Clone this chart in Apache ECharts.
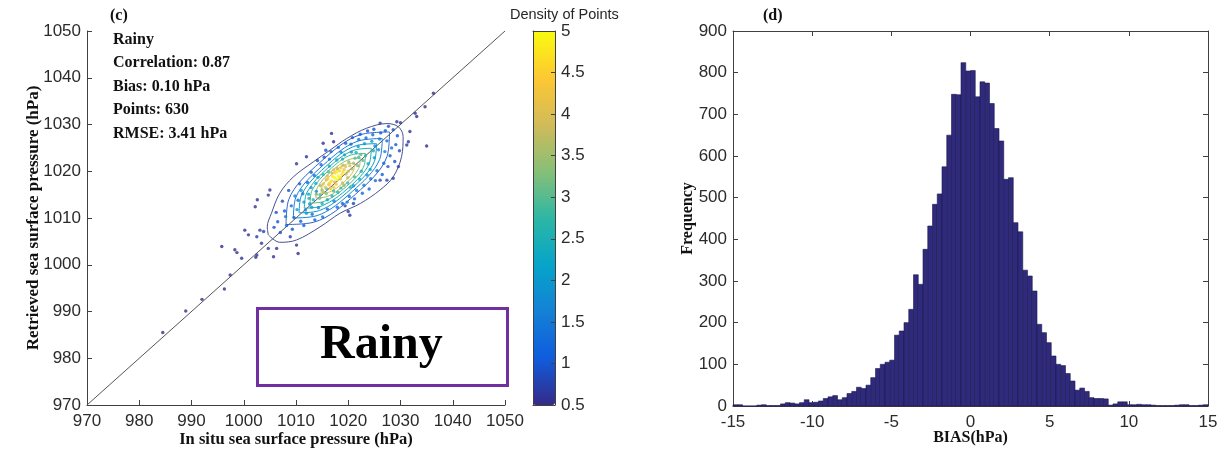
<!DOCTYPE html>
<html>
<head>
<meta charset="utf-8">
<script src="https://cdn.jsdelivr.net/npm/echarts@6.0.0/dist/echarts.min.js"></script>
<style>
html, body { margin: 0; padding: 0; background: #fff; }
#main { width: 1226px; height: 450px; }
</style>
</head>
<body>
<div id="main"></div>
<script>
// ---- data (c): scatter of retrieved vs in situ pressure, [x, y, density]
var sparsePts = [
    [984.5,985.5,0.5],[988.9,990.1,0.5],[992.0,992.6,0.5],[996.3,994.8,0.5],[997.4,997.8,0.55],
    [995.8,1003.9,0.5],[998.3,1003.2,0.55],[998.7,1002.6,0.55],[999.6,1001.4,0.6],[1002.3,1001.6,0.6],
    [1002.5,1002.1,0.6],[1005.7,1001.7,0.55],[1004.7,1003.5,0.6],[1006.3,1003.5,0.6],[1010.1,1004.2,0.55],
    [1010.4,1002.4,0.5],[1003.4,1004.6,0.65],[1000.2,1007.4,0.55],[1000.9,1006.4,0.6],[1003.1,1007.4,0.7],
    [1002.5,1006.0,0.7],[1003.8,1007.1,0.75],[1008.9,1006.0,0.7],[1002.6,1013.9,0.55],[1002.2,1012.4,0.55],
    [1005.0,1016.0,0.6],[1004.7,1014.9,0.6],[1010.1,1021.6,0.6],[1012.0,1023.1,0.6],[1015.2,1026.0,0.55],
    [1016.8,1028.1,0.5],[1017.2,1026.3,0.55],[1036.3,1036.7,0.5],[1032.8,1032.4,0.55],[1033.1,1031.7,0.55],
    [1034.7,1033.8,0.5],[1031.8,1028.5,0.6],[1035.0,1025.4,0.5],[1031.2,1025.6,0.65],[1031.5,1026.3,0.65],
    [1029.6,1021.0,0.7],[1028.6,1018.5,0.75],[1027.4,1018.1,0.8],[1026.1,1018.1,0.85],[1021.0,1013.1,0.8],
    [1020.0,1011.4,0.7],[1020.3,1010.6,0.65],[1019.4,1012.6,0.8],[1026.1,1030.3,0.7],[1029.3,1030.6,0.65],
    [1030.0,1030.4,0.65]
];
var ringPts = [
    [1006.5,1009.2,1.0],[1007.8,1011.5,1.1],[1008.2,1008.4,1.2],[1009.1,1012.6,1.2],[1009.6,1010.1,1.4],
    [1010.4,1013.8,1.3],[1010.9,1009.3,1.2],[1011.3,1015.2,1.4],[1011.8,1011.7,1.7],[1012.2,1017.6,1.2],
    [1012.6,1013.0,1.8],[1013.1,1010.8,1.3],[1013.5,1019.1,1.3],[1013.9,1015.7,1.9],[1014.3,1012.2,1.6],
    [1014.8,1021.4,1.2],[1015.4,1023.0,1.0],[1016.0,1011.9,1.2],[1016.7,1024.2,1.1],[1017.3,1013.6,1.5],
    [1018.1,1025.1,1.2],[1018.9,1013.1,1.2],[1019.5,1026.0,1.1],[1020.2,1014.6,1.4],[1020.8,1027.2,1.0],
    [1021.6,1015.9,1.5],[1022.3,1027.9,1.1],[1023.0,1017.0,1.5],[1023.7,1028.6,1.0],[1024.3,1018.4,1.4],
    [1024.9,1029.0,0.9],[1025.5,1020.1,1.3],[1026.2,1028.2,1.1],[1026.8,1021.7,1.2],[1027.4,1026.5,1.2],
    [1028.0,1023.3,1.1],[1028.6,1028.9,0.9],[1029.1,1025.7,1.0],[1027.7,1029.6,0.9],[1025.8,1024.6,1.8],
    [1005.8,1008.0,0.9],[1006.2,1011.2,0.9],[1007.0,1006.9,0.9],[1007.4,1013.6,0.8],[1008.6,1015.9,0.9],
    [1009.3,1007.6,1.0],[1010.7,1017.3,1.0],[1011.5,1008.4,1.1],[1012.9,1019.8,1.0],[1013.6,1009.6,1.1],
    [1014.1,1022.3,0.9],[1015.1,1010.2,1.3],[1015.7,1024.5,0.9],[1016.4,1022.6,1.4],[1017.9,1012.3,1.3],
    [1018.6,1024.1,1.5],[1019.8,1013.4,1.5],[1020.5,1025.8,1.3],[1021.2,1014.1,1.2],[1022.0,1026.8,1.4],
    [1022.7,1015.3,1.3],[1023.4,1027.1,1.2],[1024.0,1016.2,1.1],[1024.7,1027.8,1.2],[1025.2,1018.0,1.2],
    [1026.0,1026.9,1.5],[1026.5,1019.3,1.1],[1027.1,1028.7,1.0],[1027.6,1021.0,1.0],[1028.3,1025.0,1.3],
    [1028.9,1022.1,0.9],[1029.4,1027.6,1.0],[1029.8,1024.4,0.9],[1008.0,1010.3,1.5],[1009.8,1014.7,1.6],
    [1012.9,1016.5,1.9],[1023.6,1019.2,1.8],[1025.1,1025.4,1.7],[1027.0,1024.2,1.6],[1021.0,1016.9,1.9]
];
var midPts = [
    [1010.2,1011.8,2.0],[1011.5,1013.4,2.2],[1012.4,1015.1,2.3],[1013.3,1013.9,2.6],[1013.8,1017.4,2.4],
    [1014.6,1015.0,2.9],[1015.2,1019.3,2.6],[1015.9,1016.2,3.0],[1016.4,1021.1,2.3],[1017.2,1015.8,2.8],
    [1017.8,1022.4,2.2],[1018.6,1016.4,2.7],[1019.3,1023.5,2.1],[1019.9,1017.5,2.9],[1020.6,1024.1,2.0],
    [1021.2,1018.8,2.8],[1021.9,1025.3,2.0],[1022.5,1020.0,2.6],[1023.1,1025.9,2.0],[1023.8,1021.6,2.3],
    [1024.5,1026.4,2.0],[1025.0,1022.9,2.1],[1022.0,1023.0,2.9],[1012.0,1011.0,2.0],[1016.0,1013.9,2.2],
    [1011.0,1015.9,2.0],[1013.0,1012.3,2.1],[1014.2,1018.7,2.2],[1015.0,1013.1,2.4],[1016.2,1019.9,2.9],
    [1016.9,1014.7,2.5],[1018.0,1015.5,2.6],[1018.9,1022.6,2.5],[1020.4,1016.6,2.7],[1021.5,1024.0,2.5],
    [1022.2,1018.3,2.5],[1023.3,1023.3,2.7],[1024.2,1020.4,2.2],[1024.8,1024.4,2.4],[1012.5,1014.2,2.4]
];
var highPts = [
    [1013.9,1015.1,3.2],[1014.7,1016.9,3.5],[1015.3,1015.5,3.6],[1015.8,1018.2,3.8],[1016.3,1017.1,3.9],
    [1016.9,1019.6,3.8],[1017.4,1017.7,3.9],[1017.9,1020.6,3.6],[1018.5,1018.4,3.9],[1019.0,1021.3,3.5],
    [1019.6,1019.4,3.7],[1020.1,1022.0,3.2],[1020.7,1020.5,3.4],[1021.3,1022.8,3.0],[1021.8,1021.2,3.2],
    [1022.4,1023.6,3.0],[1014.5,1014.2,3.1],[1019.2,1017.0,3.3],[1015.0,1016.0,3.4],[1016.0,1019.0,3.9],
    [1017.2,1020.3,3.9],[1018.9,1017.5,3.8],[1020.0,1020.0,4.0],[1021.0,1021.7,3.6],[1015.8,1015.2,3.3],
    [1019.9,1018.6,3.6],[1022.8,1022.3,3.0]
];
var corePts = [
    [1015.6,1016.6,4.1],[1016.1,1018.4,4.5],[1016.6,1016.3,4.3],[1017.0,1018.9,4.8],[1017.5,1019.6,4.6],
    [1017.9,1018.2,4.9],[1018.3,1020.1,4.5],[1018.8,1019.3,4.7],[1019.2,1020.4,4.3],[1016.5,1017.6,4.6],
    [1017.7,1017.2,4.4],[1018.1,1019.0,5.0],[1019.5,1021.0,4.0],[1015.2,1017.3,4.0],[1020.3,1021.2,4.0],
    [1016.8,1017.9,4.7],[1018.6,1020.8,4.4],[1017.2,1016.6,4.2],[1017.4,1018.6,5.0],[1018.4,1018.7,4.9],
    [1016.3,1017.2,4.5],[1019.0,1019.9,4.6],[1017.8,1019.9,4.8]
];

// contour lines, outer to inner
var contour1 = [[1004.7,1006.4],[1006.9,1004.8],[1010.1,1005.3],[1014.6,1008.1],[1018.4,1011.0],[1022.3,1013.1],[1026.1,1016.0],[1028.6,1018.8],[1030.2,1023.1],[1030.5,1027.4],[1029.6,1029.5],[1027.4,1030.2],[1023.5,1029.2],[1019.7,1027.0],[1016.5,1024.5],[1013.3,1022.0],[1009.5,1018.8],[1006.9,1015.3],[1005.3,1011.0],[1004.5,1008.1],[1004.7,1006.4]];
var contour2 = [[1027.9,1028.4],[1022.6,1027.9],[1014.6,1021.9],[1008.6,1013.9],[1008.1,1008.6],[1013.4,1009.1],[1021.4,1015.1],[1027.4,1023.1],[1027.9,1028.4]];
var contour3 = [[1026.5,1027.0],[1022.0,1026.5],[1015.2,1021.3],[1010.0,1014.5],[1009.5,1010.0],[1014.0,1010.5],[1020.8,1015.7],[1026.0,1022.5],[1026.5,1027.0]];
var contour4 = [[1025.4,1025.9],[1021.6,1025.5],[1015.6,1020.9],[1011.1,1015.0],[1010.6,1011.1],[1014.5,1011.6],[1020.4,1016.1],[1025.0,1022.1],[1025.4,1025.9]];
var contour5 = [[1024.4,1024.9],[1021.1,1024.5],[1016.0,1020.6],[1012.1,1015.5],[1011.6,1012.1],[1015.0,1012.6],[1020.1,1016.5],[1024.0,1021.6],[1024.4,1024.9]];
var contour6 = [[1023.3,1023.8],[1020.6,1023.5],[1016.3,1020.2],[1013.1,1016.0],[1012.7,1013.2],[1015.5,1013.6],[1019.7,1016.8],[1023.0,1021.1],[1023.3,1023.8]];
var contour7 = [[1022.3,1022.8],[1020.1,1022.5],[1016.7,1019.9],[1014.1,1016.5],[1013.8,1014.3],[1016.0,1014.6],[1019.4,1017.2],[1022.0,1020.6],[1022.3,1022.8]];
var contour8 = [[1021.2,1021.7],[1019.6,1021.5],[1017.0,1019.5],[1015.1,1017.0],[1014.8,1015.3],[1016.5,1015.6],[1019.0,1017.5],[1021.0,1020.1],[1021.2,1021.7]];
var contours = [contour1, contour2, contour3, contour4, contour5, contour6, contour7, contour8];
var contourColors = ['#4a5192', '#2d63c8', '#1a7fd6', '#0b9bcb', '#1eaeb2', '#52bb90', '#a4be68', '#e3c140'];

var diagLine = [[970, 970], [1050, 1050]];

// ---- data (d): histogram of BIAS, bins of 0.3 hPa from -15
var binStart = -15;
var binWidth = 0.3;
var biasCounts = [
    3, 3, 0, 0, 0, 2, 3, 1, 1, 1, 5, 8, 7, 5, 8,
    15,
    8, 9, 12, 18, 22, 25, 15, 20, 30, 35, 45, 42, 50, 68, 90, 100, 105, 110,
    170, 180, 200, 232,
    315,
    292, 376, 432, 484, 509, 574, 650, 748, 747,
    824, 804, 805, 742, 778, 775,
    726, 666, 636, 544, 548, 440, 418, 326, 312, 276, 196, 176, 152, 120,
    100, 97, 78, 60, 38, 43, 35, 20, 18, 18, 17, 2, 5, 10, 10,
    3, 3, 4, 3, 3, 2, 1, 1, 1, 1, 2, 3, 3, 1, 1, 2, 3
];

// colorbar range and colormap
var densityMin = 0.5;
var densityMax = 5;
var parula = ['#352a87', '#0f5cdd', '#1481d6', '#06a4ca', '#2eb7a4', '#87bf77', '#d1bb59', '#fec832', '#f9fb0e'];

var histData = biasCounts.map(function (c, i) {
    return [binStart + i * binWidth, binStart + (i + 1) * binWidth, c];
});

var chart = echarts.init(document.getElementById('main'));

var sansFont = '"Liberation Sans", Arial, sans-serif';
var serifFont = '"Liberation Serif", "Times New Roman", serif';
var axisCol = '#404040';
var labelStyle = { color: '#2b2b2b', fontSize: 17, fontFamily: sansFont, formatter: function (v) { return String(v); } };

function nameStyle(size) {
    return { color: '#111', fontSize: size, fontWeight: 'bold', fontFamily: serifFont };
}

function plainAxis(extra) {
    var base = {
        axisLine: { show: true, onZero: false, lineStyle: { color: axisCol, width: 1 } },
        axisTick: { show: true, inside: true, length: 5, lineStyle: { color: axisCol } },
        splitLine: { show: false },
        nameMoveOverlap: false,
        axisLabel: labelStyle
    };
    return Object.assign(base, extra);
}

function edgeAxis(extra) {
    var base = {
        type: 'value', show: true, z: 10,
        axisLine: { show: true, onZero: false, lineStyle: { color: axisCol } },
        axisTick: { show: false }, axisLabel: { show: false }, splitLine: { show: false }
    };
    return Object.assign(base, extra);
}

var series = [];
// diagonal 1:1 line
series.push({
    type: 'line', xAxisIndex: 0, yAxisIndex: 0, data: diagLine,
    showSymbol: false, silent: true, z: 2,
    lineStyle: { color: '#555', width: 1 }
});
contours.forEach(function (c, i) {
    series.push({
        type: 'line', xAxisIndex: 0, yAxisIndex: 0, data: c,
        showSymbol: false, smooth: 0.35, silent: true, z: 3,
        lineStyle: { color: contourColors[i], width: 1 }
    });
});
var scatterIndex = series.length;
series.push({
    type: 'scatter', xAxisIndex: 0, yAxisIndex: 0,
    data: sparsePts.concat(ringPts, midPts, highPts, corePts),
    symbolSize: 3.4, z: 4
});
// histogram bars
series.push({
    type: 'custom', xAxisIndex: 1, yAxisIndex: 1,
    data: histData,
    renderItem: function (params, api) {
        var p0 = api.coord([api.value(0), api.value(2)]);
        var p1 = api.coord([api.value(1), 0]);
        return {
            type: 'rect',
            shape: { x: p0[0], y: p0[1], width: p1[0] - p0[0], height: p1[1] - p0[1] },
            style: { fill: '#302a7c', stroke: '#1d1a4e', lineWidth: 0.6 }
        };
    }
});

var option = {
    backgroundColor: '#fff',
    animation: false,
    grid: [
        { left: 87, top: 31, width: 418, height: 374, outerBoundsMode: 'none' },
        { left: 733, top: 31, width: 475, height: 375, outerBoundsMode: 'none' },
        { left: 533, top: 31, width: 22, height: 374, outerBoundsMode: 'none' }
    ],
    xAxis: [
        plainAxis({ gridIndex: 0, type: 'value', min: 970, max: 1050, interval: 10,
            axisLabel: Object.assign({}, labelStyle, { margin: 8 }),
            name: 'In situ sea surface pressure (hPa)', nameLocation: 'middle', nameGap: 26,
            nameTextStyle: nameStyle(16.5) }),
        plainAxis({ gridIndex: 1, type: 'value', min: -15, max: 15, interval: 5,
            axisLabel: Object.assign({}, labelStyle, { margin: 8 }),
            name: 'BIAS(hPa)', nameLocation: 'middle', nameGap: 24,
            nameTextStyle: nameStyle(16) }),
        plainAxis({ gridIndex: 1, type: 'value', min: -15, max: 15, interval: 5, position: 'top',
            axisLabel: { show: false } }),
        edgeAxis({ gridIndex: 2, min: 0, max: 1, position: 'bottom' }),
        edgeAxis({ gridIndex: 2, min: 0, max: 1, position: 'top' })
    ],
    yAxis: [
        plainAxis({ gridIndex: 0, type: 'value', min: 970, max: 1050, interval: 10,
            axisLabel: Object.assign({}, labelStyle, { margin: 6 }),
            name: 'Retrieved sea surface pressure (hPa)', nameLocation: 'middle', nameGap: 45,
            nameTextStyle: nameStyle(17) }),
        plainAxis({ gridIndex: 1, type: 'value', min: 0, max: 900, interval: 100,
            axisLabel: Object.assign({}, labelStyle, { margin: 6 }),
            name: 'Frequency', nameLocation: 'middle', nameGap: 37,
            nameTextStyle: nameStyle(16) }),
        plainAxis({ gridIndex: 1, type: 'value', min: 0, max: 900, interval: 100, position: 'right',
            axisLabel: { show: false } }),
        plainAxis({ gridIndex: 2, type: 'value', min: densityMin, max: densityMax, interval: 0.5,
            position: 'right', z: 10,
            axisTick: { show: true, inside: true, length: 4, lineStyle: { color: axisCol } },
            axisLabel: Object.assign({}, labelStyle, { margin: 6 }) }),
        edgeAxis({ gridIndex: 2, min: densityMin, max: densityMax, position: 'left' })
    ],
    visualMap: {
        type: 'continuous', min: densityMin, max: densityMax, dimension: 2,
        seriesIndex: scatterIndex, calculable: false, hoverLink: false,
        orient: 'vertical', left: 533, top: 31, itemWidth: 22, itemHeight: 374,
        padding: 0, text: null, z: 1,
        inRange: { color: parula }
    },
    graphic: [
        { type: 'text', left: 110, top: 8, style: { text: '(c)', font: 'bold 16px ' + serifFont, fill: '#111' } },
        { type: 'text', left: 113, top: 32, style: { text: 'Rainy', font: 'bold 16px ' + serifFont, fill: '#111' } },
        { type: 'text', left: 113, top: 55, style: { text: 'Correlation: 0.87', font: 'bold 16px ' + serifFont, fill: '#111' } },
        { type: 'text', left: 113, top: 79, style: { text: 'Bias: 0.10 hPa', font: 'bold 16px ' + serifFont, fill: '#111' } },
        { type: 'text', left: 113, top: 102, style: { text: 'Points: 630', font: 'bold 16px ' + serifFont, fill: '#111' } },
        { type: 'text', left: 113, top: 126, style: { text: 'RMSE: 3.41 hPa', font: 'bold 16px ' + serifFont, fill: '#111' } },
        { type: 'text', left: 763, top: 8, style: { text: '(d)', font: 'bold 16px ' + serifFont, fill: '#111' } },
        { type: 'text', left: 510, top: 7, style: { text: 'Density of Points', font: '14.5px ' + sansFont, fill: '#262626' } },
        { type: 'rect', left: 256, top: 307, shape: { width: 250, height: 77 },
            style: { fill: '#fff', stroke: '#7030a0', lineWidth: 3 } },
        { type: 'text', left: 320, top: 322, style: { text: 'Rainy', font: 'bold 48px ' + serifFont, fill: '#000' } }
    ],
    series: series
};
chart.setOption(option);
</script>
</body>
</html>
